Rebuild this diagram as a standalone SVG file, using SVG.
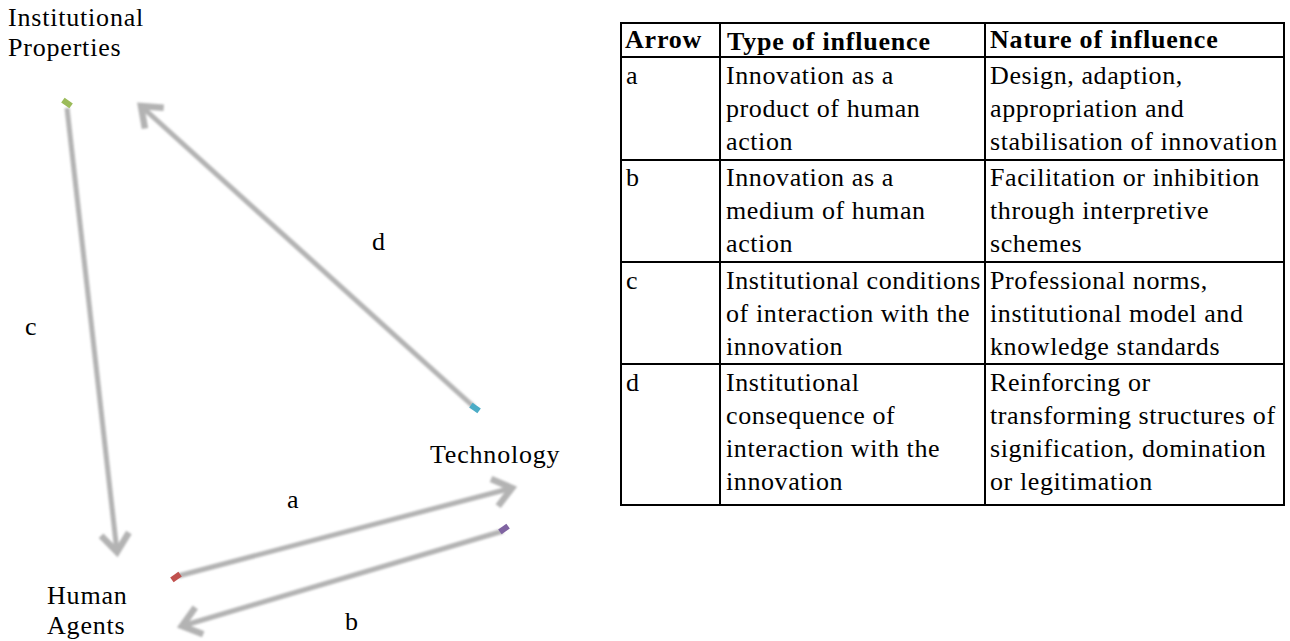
<svg xmlns="http://www.w3.org/2000/svg" width="1290" height="641" viewBox="0 0 1290 641">
<style>
  .lbl { font-family: "Liberation Serif", "Times New Roman", serif; font-size: 26px; letter-spacing: 0.8px; fill: #000; }
  .cell { font-family: "Liberation Serif", "Times New Roman", serif; font-size: 26px; letter-spacing: 0.6px; fill: #000; }
  .hdr { font-family: "Liberation Serif", "Times New Roman", serif; font-size: 26px; font-weight: bold; letter-spacing: 0.8px; fill: #000; }
  .conn { fill: none; stroke: #b3b3b3; stroke-width: 5; }
  .grid { stroke: #000; stroke-width: 2; fill: none; }
</style>
<defs>
  <filter id="soft" x="-10%" y="-10%" width="120%" height="120%">
    <feGaussianBlur stdDeviation="1.1"/>
  </filter>
  <marker id="ah" markerUnits="userSpaceOnUse" orient="auto" markerWidth="60" markerHeight="60" viewBox="-30 -30 60 60" refX="0" refY="0" overflow="visible">
    <path d="M-18,-14 L0,0 L-18,14" fill="none" stroke="#b3b3b3" stroke-width="6.5"/>
  </marker>
</defs>
<rect width="1290" height="641" fill="#fff"/>

<g id="connectors">
  <g filter="url(#soft)">
    <path id="arrow-c" class="conn" d="M67,108 L117,552" marker-end="url(#ah)"/>
    <path id="arrow-d" class="conn" d="M474,407 L141,106" marker-end="url(#ah)"/>
    <path id="arrow-a" class="conn" d="M178,576 L512,488" marker-end="url(#ah)"/>
    <path id="arrow-b" class="conn" d="M503,531 L182,626" marker-end="url(#ah)"/>
  </g>
  <rect x="-5" y="-3" width="10" height="6" fill="#9bbb59" transform="translate(67,103) rotate(35)"/>
  <rect x="-5" y="-3" width="10" height="6" fill="#4bacc6" transform="translate(475,408) rotate(35)"/>
  <rect x="-5" y="-3" width="10" height="6" fill="#c0504d" transform="translate(176,577) rotate(-35)"/>
  <rect x="-5" y="-3" width="10" height="6" fill="#8064a2" transform="translate(504,529) rotate(-35)"/>
  <text class="lbl" x="287" y="508">a</text>
  <text class="lbl" x="345" y="630">b</text>
  <text class="lbl" x="25" y="335">c</text>
  <text class="lbl" x="372" y="250">d</text>
</g>

<g id="node-institutional">
  <text class="lbl" x="8" y="26">Institutional</text>
  <text class="lbl" x="8" y="56">Properties</text>
</g>
<g id="node-human">
  <text class="lbl" x="47" y="604">Human</text>
  <text class="lbl" x="47" y="634">Agents</text>
</g>
<g id="node-technology">
  <text class="lbl" x="430" y="463">Technology</text>
</g>

<g id="table">
  <rect class="grid" x="621" y="23" width="663" height="482"/>
  <line class="grid" x1="720" y1="23" x2="720" y2="505"/>
  <line class="grid" x1="985" y1="23" x2="985" y2="505"/>
  <line class="grid" x1="621" y1="57" x2="1284" y2="57"/>
  <line class="grid" x1="621" y1="160" x2="1284" y2="160"/>
  <line class="grid" x1="621" y1="262" x2="1284" y2="262"/>
  <line class="grid" x1="621" y1="364" x2="1284" y2="364"/>

  <text class="hdr" x="625" y="48">Arrow</text>
  <text class="hdr" x="727" y="50">Type of influence</text>
  <text class="hdr" x="990" y="48">Nature of influence</text>

  <text class="cell" x="626" y="84">a</text>
  <text class="cell" x="726" y="84">Innovation as a</text>
  <text class="cell" x="726" y="117">product of human</text>
  <text class="cell" x="726" y="150">action</text>
  <text class="cell" x="990" y="84">Design, adaption,</text>
  <text class="cell" x="990" y="117">appropriation and</text>
  <text class="cell" x="990" y="150">stabilisation of innovation</text>

  <text class="cell" x="626" y="186">b</text>
  <text class="cell" x="726" y="186">Innovation as a</text>
  <text class="cell" x="726" y="219">medium of human</text>
  <text class="cell" x="726" y="252">action</text>
  <text class="cell" x="990" y="186">Facilitation or inhibition</text>
  <text class="cell" x="990" y="219">through interpretive</text>
  <text class="cell" x="990" y="252">schemes</text>

  <text class="cell" x="626" y="289">c</text>
  <text class="cell" x="726" y="289">Institutional conditions</text>
  <text class="cell" x="726" y="322">of interaction with the</text>
  <text class="cell" x="726" y="355">innovation</text>
  <text class="cell" x="990" y="289">Professional norms,</text>
  <text class="cell" x="990" y="322">institutional model and</text>
  <text class="cell" x="990" y="355">knowledge standards</text>

  <text class="cell" x="626" y="391">d</text>
  <text class="cell" x="726" y="391">Institutional</text>
  <text class="cell" x="726" y="424">consequence of</text>
  <text class="cell" x="726" y="457">interaction with the</text>
  <text class="cell" x="726" y="490">innovation</text>
  <text class="cell" x="990" y="391">Reinforcing or</text>
  <text class="cell" x="990" y="424">transforming structures of</text>
  <text class="cell" x="990" y="457">signification, domination</text>
  <text class="cell" x="990" y="490">or legitimation</text>
</g>
</svg>
